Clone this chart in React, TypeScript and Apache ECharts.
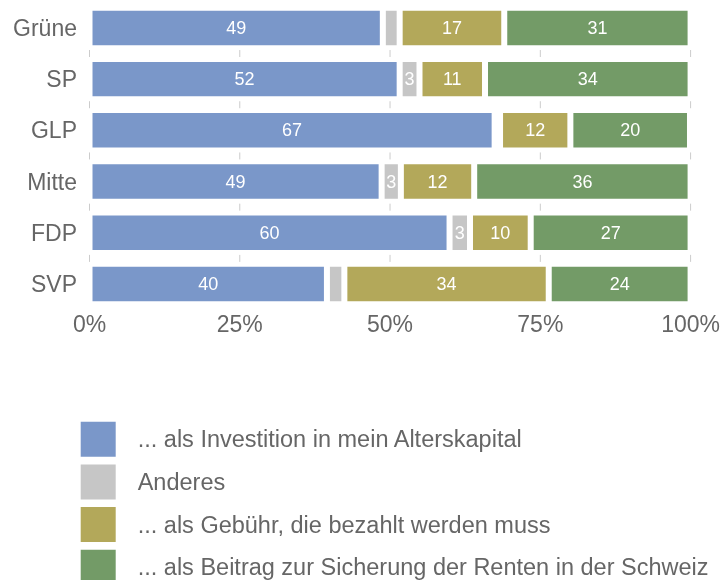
import React, { useEffect, useRef } from "react";
import * as echarts from "echarts";

const categories = ["Grüne", "SP", "GLP", "Mitte", "FDP", "SVP"];
const seriesNames = [
  "... als Investition in mein Alterskapital",
  "Anderes",
  "... als Gebühr, die bezahlt werden muss",
  "... als Beitrag zur Sicherung der Renten in der Schweiz",
];
const investition = [48.8, 51.6, 67.4, 48.6, 59.9, 39.5];
const anderes = [2.8, 3.3, 0.9, 3.2, 3.4, 2.9];
const gebuehr = [17.4, 10.9, 11.7, 12.2, 10.1, 34.0];
const beitrag = [31.0, 34.2, 19.9, 36.0, 26.6, 23.6];
const xTicks = [0, 25, 50, 75, 100];

const colors = ["#7a97c9", "#c6c6c6", "#b3a85a", "#739b67"];
const FONT = "'Liberation Sans', Arial, Helvetica, sans-serif";

export default function App() {
  const ref = useRef<HTMLDivElement>(null);
  useEffect(() => {
    if (!ref.current) return;
    const chart = echarts.init(ref.current, undefined, { renderer: "svg" });
    const values = [investition, anderes, gebuehr, beitrag];
    const gridData: number[][] = [];
    xTicks.forEach((v) => {
      for (let b = 0; b < categories.length - 1; b++) gridData.push([v, b]);
    });
    chart.setOption({
      animation: false,
      textStyle: { fontFamily: FONT },
      grid: { left: 89.5, right: 30, top: 2.3, height: 307.3, containLabel: false },
      xAxis: {
        type: "value",
        min: 0,
        max: 100,
        interval: 25,
        axisLine: { show: false },
        axisTick: { show: false },
        splitLine: { show: false },
        axisLabel: {
          formatter: "{value}%",
          color: "#666",
          fontSize: 23,
          margin: 3,
          fontFamily: FONT,
        },
      },
      yAxis: {
        type: "category",
        data: categories,
        inverse: true,
        axisLine: { show: false },
        axisTick: { show: false },
        axisLabel: { color: "#666", fontSize: 23, margin: 12.5, fontFamily: FONT },
      },
      legend: {
        orient: "vertical",
        left: 80.7,
        top: 421.7,
        height: 220,
        width: 640,
        padding: 0,
        itemWidth: 35,
        itemHeight: 35,
        itemGap: 7.7,
        icon: "rect",
        selectedMode: false,
        itemStyle: { borderWidth: 0 },
        data: seriesNames,
        textStyle: {
          color: "#666",
          fontSize: 23.5,
          fontFamily: FONT,
          padding: [0, 0, 0, 17],
        },
      },
      series: [
        {
          type: "custom",
          z: 1,
          silent: true,
          data: gridData,
          encode: { x: 0, y: 1 },
          renderItem: (params: any, api: any) => {
            const p = api.coord([api.value(0), api.value(1)]);
            const h = api.size([0, 1])[1];
            const y = p[1] + h / 2;
            return {
              type: "line",
              shape: { x1: p[0], y1: y - 3.5, x2: p[0], y2: y + 3.5 },
              style: { stroke: "#cccccc", lineWidth: 1 },
            };
          },
        },
        ...seriesNames.map((name, i) => ({
          name,
          type: "bar",
          stack: "total",
          z: 2,
          barWidth: "79%",
          data: values[i],
          itemStyle: { color: colors[i], borderColor: "#ffffff", borderWidth: 3 },
          label: {
            show: true,
            position: "inside",
            color: "#ffffff",
            fontSize: 18,
            fontFamily: FONT,
            formatter: (p: any) => (p.value >= 3 ? String(Math.round(p.value)) : ""),
          },
        })),
      ],
    });
    return () => chart.dispose();
  }, []);
  return (
    <div
      ref={ref}
      style={{ position: "fixed", left: 0, top: 0, width: 723, height: 580 }}
    />
  );
}
